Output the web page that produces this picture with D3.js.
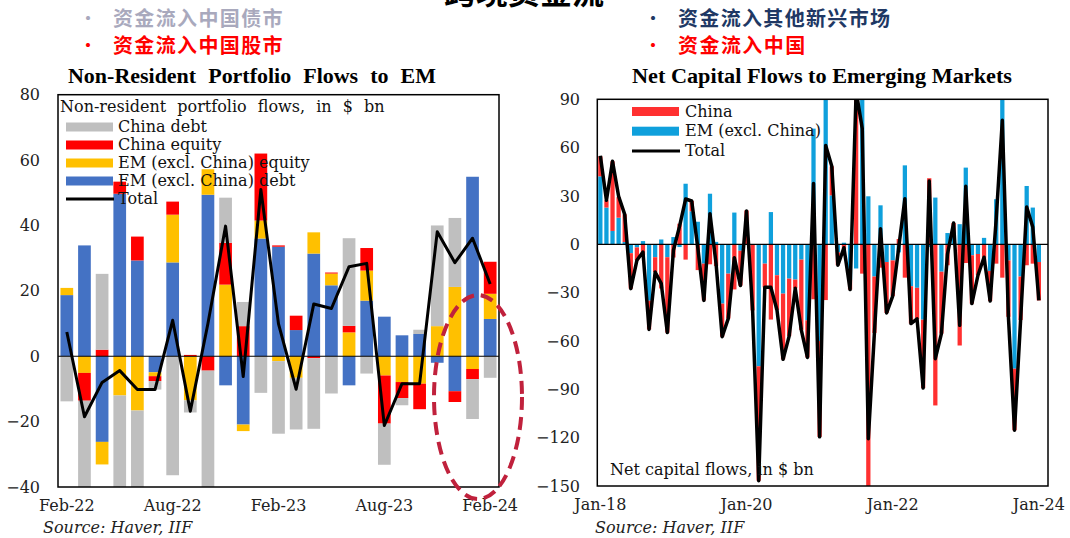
<!DOCTYPE html>
<html>
<head>
<meta charset="utf-8">
<script src="https://cdn.jsdelivr.net/npm/d3@7"></script>
<style>
  body { margin: 0; background: #fff; }
  svg { display: block; }
</style>
</head>
<body>
<svg id="chart" width="1070" height="538"></svg>
<script>
// ---- left panel: non-resident portfolio flows, $ bn (Feb-22 .. Feb-24)
const leftTicks = ["Feb-22", "Aug-22", "Feb-23", "Aug-23", "Feb-24"];
const emDebt      = [18.7, 33.9, -26.2, 49.7, 29.3, -4.9, 28.7, 0, 49.4, -8.9, -20.9, 36.0, 33.5, 8.0, 31.4, 21.7, -8.9, 17.0, 12.1, 6.4, 6.8, -2.0, -10.7, 54.9, 11.4];
const emEquity    = [2.2, -5.1, -6.9, -12.0, -16.6, -1.2, 14.6, -13.5, 7.8, 21.9, -2.0, 5.5, -1.5, -6.6, 6.5, 3.6, 7.3, 9.2, -5.9, -7.9, -8.4, 9.2, 21.2, -3.9, 7.7];
const chinaEquity = [0, -8.5, 2.0, 3.7, 7.3, -1.5, 4.0, 0.4, -4.4, 12.8, 9.2, 20.5, 0.4, 4.4, -0.6, 0.3, 2.0, 6.9, -14.7, -4.9, -7.8, 0, -3.3, -3.1, 9.8];
const chinaDebt   = [-13.8, -39.0, 23.2, -46.0, -30.4, -2.6, -36.4, -3.7, -42.8, 13.8, 7.4, -11.2, -22.2, -15.8, -21.6, -11.4, 26.8, -5.3, -12.6, -2.2, 1.3, 30.8, 21.1, -12.2, -6.6];
const leftTotal   = [7.4, -18.5, -8.0, -4.4, -10.2, -10.2, 11.0, -16.8, 10.0, 39.8, -6.2, 51.0, 9.9, -10.1, 16.0, 14.6, 27.4, 28.4, -21.2, -8.4, -8.4, 38.1, 28.6, 36.1, 22.1];

// ---- right panel: net capital flows to EM, $ bn (Jan-18 .. Jan-24)
const rightTicks = ["Jan-18", "Jan-20", "Jan-22", "Jan-24"];
const emFlows = [42.2, 22.8, 8.3, 16.5, 1.4, -5.5, -1.9, 2, -35, -8, 3, -8, 4.5, -1.7, 37.6, 20.5, 14, -12, 31.4, 1.5,
  -36.8, -18.2, 19.7, -4, -0.3, 0, -75.7, -12, 20, -19.2, -30.6, -21.3, -21.9, -9.5, -47.2, 71.8, -60, 96, 30.4, -5,
  1, -22, -15, 90, 29.8, -20, 24.2, -11, -10, -5, 49, -26, -27, -46.8, -1.7, 29, -17, 7, 7, 12.5,
  47.6, -6.8, -6, 4, -16.5, 28, 97.7, -10, -77.2, -20, 36.2, 22.8, -11];
const chinaFlows = [12.4, 4.5, 43.2, 12.8, 17.2, -22, -8, -6.8, -17.8, -9.2, -27.4, -46.8, -8.2, 12.8, -9.5, 6.4, -16, -22.8, -12.4, -13.5,
  -20.5, -27.9, -28, -21.6, 21, -41, -71, -14.7, -46.7, -21.6, -40.8, -35.7, -5.4, -43.7, -23, -34.1, -59.5, -34.6, 18, -8,
  -3.1, -6.1, 110, -18.2, -150.4, -35, -14.5, -31.6, -22.1, 3.3, -20.7, -23.2, -19.3, -42.4, 41, -100, -38.4, -13, 6.2, -62.8,
  -11.6, -30, -13.2, -12, -18.7, -12, -20.7, -35, -38.2, -27, -13, -12, -23.8];
const rightTotal = [55, 27.3, 51.5, 29.8, 18.6, -27.5, -9.9, -4.8, -52.8, -17.2, -24.4, -54.8, -3.7, 11.1, 28.1, 26.9, -2, -34.8, 19, -12,
  -57.3, -46.1, -8.3, -25.6, 20.7, -41, -146.7, -26.7, -26.7, -40.8, -71.4, -57, -27.3, -53.2, -70.2, 37.7, -119.5, 61.4, 48.4, -13,
  -2.1, -28.1, 95, 71.8, -120.6, -55, 9.7, -42.6, -32.1, -1.7, 28.3, -49.2, -46.3, -89.2, 39.3, -71, -55.4, -6, 13.2, -50.3,
  36, -36.8, -19.2, -8, -35.2, 16, 77, -45, -115.4, -47, 23.2, 10.8, -34.8];

const svg = d3.select("#chart");
const serif = "'DejaVu Serif', serif";
const fmt = d3.timeFormat("%b-%y");
const parse = d3.timeParse("%b-%y");

// header texts (the big title is cut by the top edge, as in the slide)
svg.append("text").attr("x", 524).attr("y", 4).attr("text-anchor", "middle")
  .style("font", "bold 32px 'Noto Sans CJK SC'").text("跨境资金流");

const bullets = [
  {x: 80, y: 26, color: "#a9a9bd", text: "资金流入中国债市"},
  {x: 80, y: 53, color: "#ff0000", text: "资金流入中国股市"},
  {x: 645, y: 26, color: "#203864", text: "资金流入其他新兴市场"},
  {x: 645, y: 53, color: "#ff0000", text: "资金流入中国"}
];
bullets.forEach(b => {
  svg.append("text").attr("x", b.x).attr("y", b.y - 2).attr("fill", b.color)
    .style("font", "bold 16px 'Noto Sans CJK SC'").text("•");
  svg.append("text").attr("x", b.x + 33).attr("y", b.y).attr("fill", b.color)
    .style("font", "bold 20px 'Noto Sans CJK SC'").attr("textLength", b.text.length * 21.2)
    .attr("lengthAdjust", "spacing").text(b.text);
});

/**
 * draw one framed panel with a diverging stacked bar chart and a total line
 */
function drawPanel(opt) {
  const g = svg.append("g");
  const x = d3.scaleBand().domain(d3.range(opt.slots))
    .range([opt.left, opt.right]).paddingInner(opt.pad).paddingOuter(opt.pad / 2);
  const y = d3.scaleLinear().domain(opt.domain).range([opt.bottom, opt.top]);

  const clipId = "clip" + opt.id;
  svg.append("clipPath").attr("id", clipId).append("rect")
    .attr("x", opt.left).attr("y", opt.top)
    .attr("width", opt.right - opt.left).attr("height", opt.bottom - opt.top);

  const rows = opt.total.map((t, i) => {
    const r = {i: i};
    opt.series.forEach(s => r[s.key] = s.values[i]);
    return r;
  });
  const stack = d3.stack().keys(opt.series.map(s => s.key)).offset(d3.stackOffsetDiverging);
  const layers = stack(rows);

  const plot = g.append("g").attr("clip-path", `url(#${clipId})`);
  plot.selectAll("g.layer").data(layers).join("g")
    .attr("fill", (d, k) => opt.series[k].color)
    .selectAll("rect").data(d => d).join("rect")
    .attr("x", d => x(d.data.i))
    .attr("width", x.bandwidth())
    .attr("y", d => y(Math.max(d[0], d[1])))
    .attr("height", d => Math.abs(y(d[0]) - y(d[1])));

  g.append("line").attr("x1", opt.left).attr("x2", opt.right)
    .attr("y1", y(0)).attr("y2", y(0)).attr("stroke", "#000").attr("stroke-width", 1.2);

  const line = d3.line().x((d, i) => x(i) + x.bandwidth() / 2).y(d => y(d));
  plot.append("path").datum(opt.total).attr("d", line)
    .attr("fill", "none").attr("stroke", "#000").attr("stroke-width", opt.lineWidth)
    .attr("stroke-linejoin", "round");

  g.append("rect").attr("x", opt.left).attr("y", opt.top)
    .attr("width", opt.right - opt.left).attr("height", opt.bottom - opt.top)
    .attr("fill", "none").attr("stroke", "#000").attr("stroke-width", 1.5);

  // y axis
  const ya = g.append("g").attr("transform", `translate(${opt.yLabelX},0)`)
    .call(d3.axisLeft(y).tickValues(opt.yTicks).tickSize(0).tickPadding(0));
  ya.select(".domain").remove();
  ya.selectAll("text").style("font", "16px " + serif).attr("fill", "#222");

  // x axis
  const start = opt.start;
  const idx = opt.xTicks.map(t => d3.timeMonth.count(start, parse(t)));
  const xa = g.append("g").attr("transform", `translate(0,${opt.bottom + 13})`)
    .call(d3.axisBottom(x).tickValues(idx).tickSize(0).tickPadding(0)
      .tickFormat(i => fmt(d3.timeMonth.offset(start, i))));
  xa.select(".domain").remove();
  xa.selectAll("text").style("font", "16px " + serif).attr("fill", "#222");

  g.append("text").attr("x", opt.sourceX).attr("y", 533)
    .style("font", "italic 16px " + serif).attr("fill", "#222").text("Source: Haver, IIF");

  g.append("text").attr("x", opt.titleX).attr("y", 83).attr("text-anchor", "middle")
    .attr("textLength", opt.titleW).attr("lengthAdjust", "spacingAndGlyphs")
    .style("font", "bold 20px 'Liberation Serif'").style("word-spacing", opt.wordSpace)
    .text(opt.title);

  return {x, y, g};
}

// ---- left panel
const left = drawPanel({
  id: "L", slots: 25, left: 58, right: 499, top: 94.7, bottom: 487, pad: 0.28,
  domain: [-40, 80], yTicks: [80, 60, 40, 20, 0, -20, -40], yLabelX: 40,
  start: parse("Feb-22"), xTicks: leftTicks, sourceX: 43, lineWidth: 3,
  title: "Non-Resident Portfolio Flows to EM", titleX: 252, titleW: 368, wordSpace: "6px",
  total: leftTotal,
  series: [
    {key: "emDebt", values: emDebt, color: "#4472c4"},
    {key: "emEquity", values: emEquity, color: "#ffc000"},
    {key: "chinaEquity", values: chinaEquity, color: "#ff0000"},
    {key: "chinaDebt", values: chinaDebt, color: "#bfbfbf"}
  ]
});

left.g.append("text").attr("x", 60).attr("y", 112)
  .style("font", "16px " + serif).style("word-spacing", "6px").attr("fill", "#111")
  .text("Non-resident portfolio flows, in $ bn");

const leftLegend = [
  {label: "China debt", color: "#bfbfbf"},
  {label: "China equity", color: "#ff0000"},
  {label: "EM (excl. China) equity", color: "#ffc000"},
  {label: "EM (excl. China) debt", color: "#4472c4"},
  {label: "Total", color: "#000", line: true}
];
leftLegend.forEach((d, k) => {
  const cy = 127 + k * 18;
  if (d.line) {
    left.g.append("line").attr("x1", 66).attr("x2", 114).attr("y1", cy).attr("y2", cy)
      .attr("stroke", "#000").attr("stroke-width", 3);
  } else {
    left.g.append("rect").attr("x", 66).attr("y", cy - 4.5).attr("width", 47).attr("height", 9)
      .attr("fill", d.color);
  }
  left.g.append("text").attr("x", 118).attr("y", cy + 5)
    .style("font", "16px " + serif).attr("fill", "#111").text(d.label);
});

// dashed highlight around the latest months
left.g.append("ellipse").attr("cx", 478).attr("cy", 397).attr("rx", 44).attr("ry", 102)
  .attr("fill", "none").attr("stroke", "#c0213c").attr("stroke-width", 4)
  .attr("stroke-dasharray", "13 7");

// ---- right panel
const right = drawPanel({
  id: "R", slots: 74, left: 597.3, right: 1048, top: 99.3, bottom: 486, pad: 0.3,
  domain: [-150, 90], yTicks: [90, 60, 30, 0, -30, -60, -90, -120, -150], yLabelX: 580,
  start: parse("Jan-18"), xTicks: rightTicks, sourceX: 595, lineWidth: 3.5,
  title: "Net Capital Flows to Emerging Markets", titleX: 822, titleW: 380, wordSpace: "0px",
  total: rightTotal,
  series: [
    {key: "em", values: emFlows, color: "#0fa0dc"},
    {key: "china", values: chinaFlows, color: "#ff3030"}
  ]
});

const rightLegend = [
  {label: "China", color: "#ff3030"},
  {label: "EM (excl. China)", color: "#0fa0dc"},
  {label: "Total", color: "#000", line: true}
];
rightLegend.forEach((d, k) => {
  const cy = 111.5 + k * 19.7;
  if (d.line) {
    right.g.append("line").attr("x1", 632).attr("x2", 680).attr("y1", cy).attr("y2", cy)
      .attr("stroke", "#000").attr("stroke-width", 3);
  } else {
    right.g.append("rect").attr("x", 632).attr("y", cy - 4.5).attr("width", 47).attr("height", 9)
      .attr("fill", d.color);
  }
  right.g.append("text").attr("x", 685).attr("y", cy + 5)
    .style("font", "16px " + serif).attr("fill", "#111").text(d.label);
});

right.g.append("text").attr("x", 610).attr("y", 475)
  .style("font", "16px " + serif).attr("fill", "#111").text("Net capital flows, in $ bn");
</script>
</body>
</html>
